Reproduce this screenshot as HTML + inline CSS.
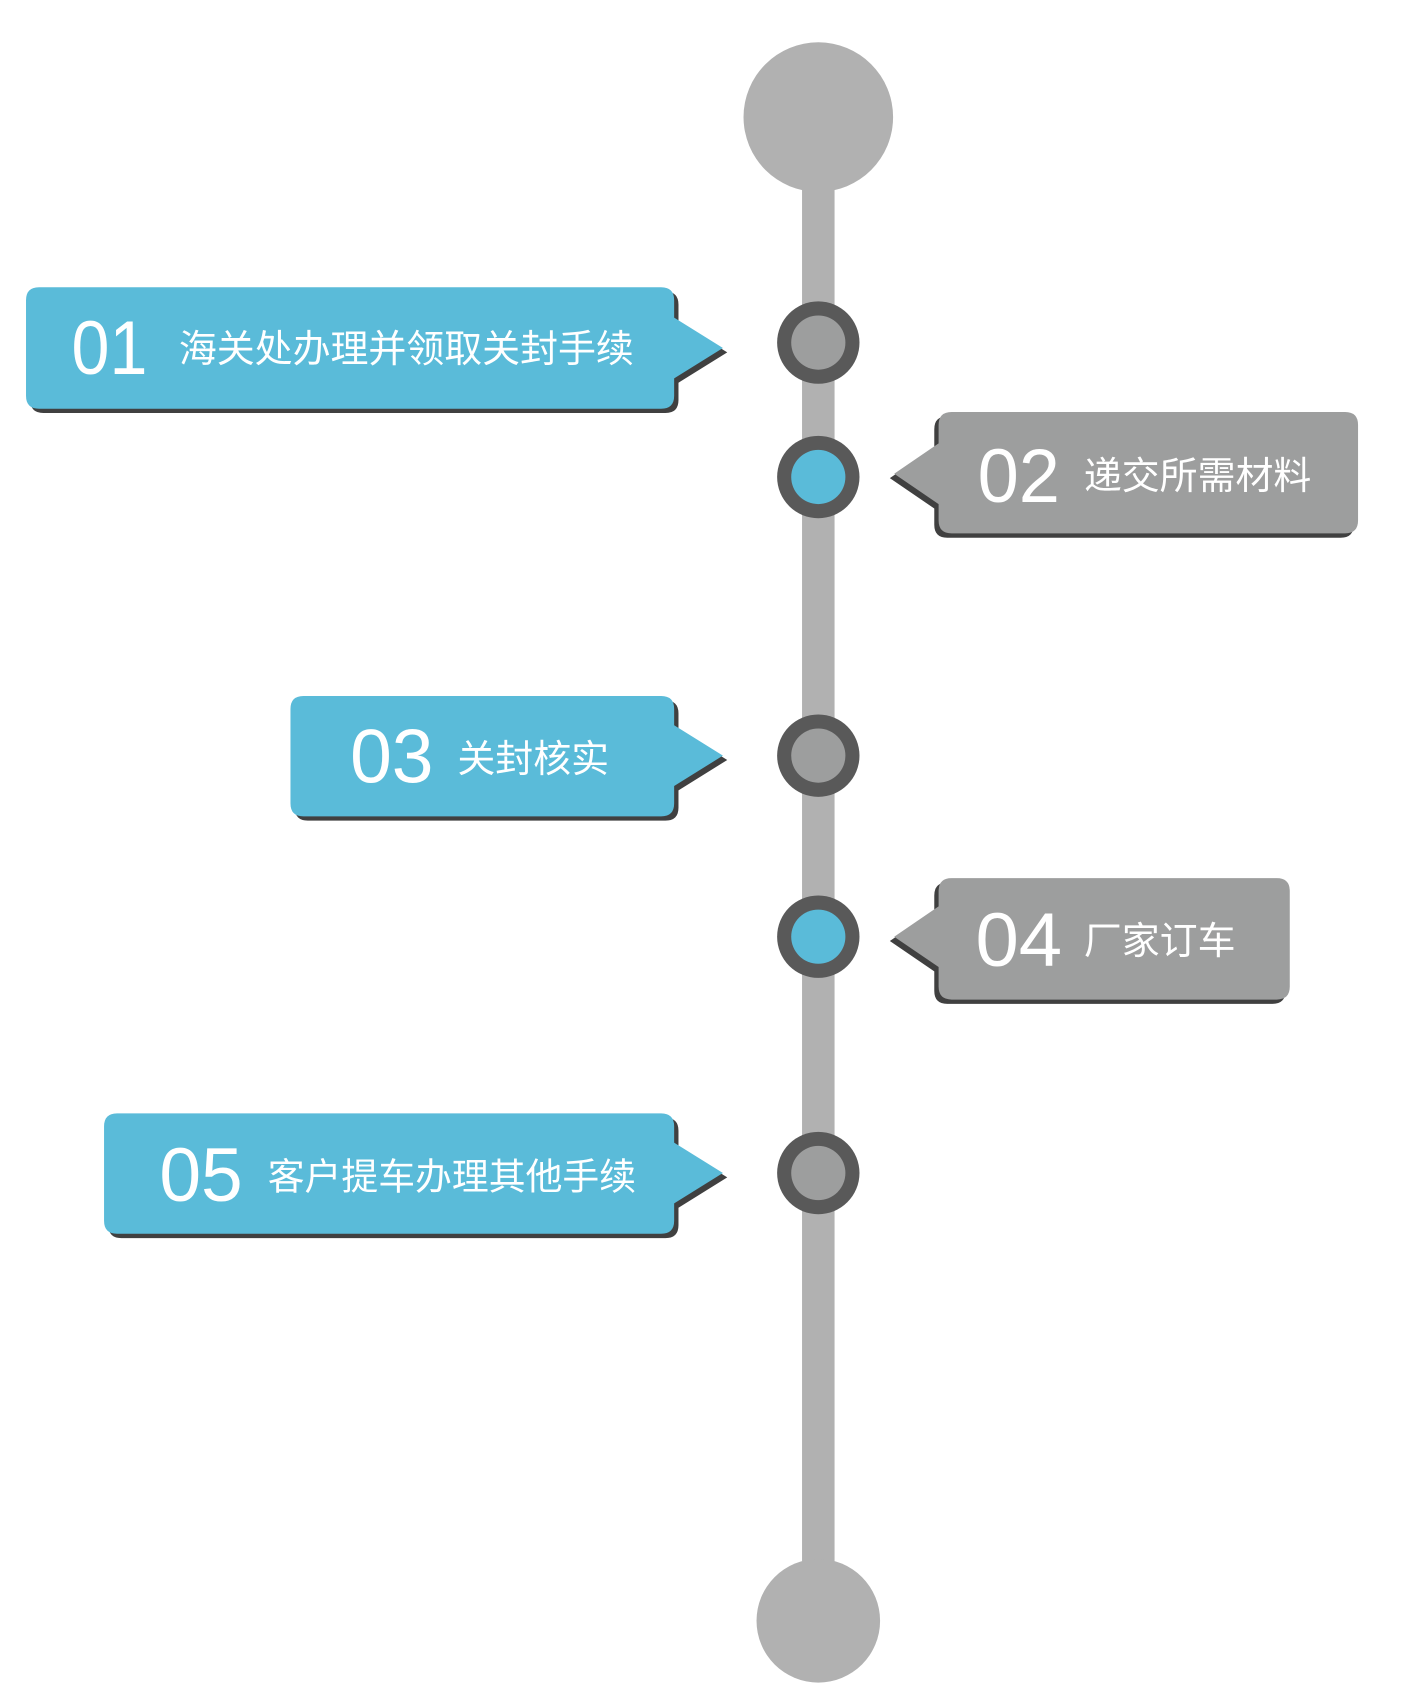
<!DOCTYPE html>
<html><head><meta charset="utf-8"><style>
html,body{margin:0;padding:0;background:#fff;}
svg{display:block;}
text{font-family:"Liberation Sans","Noto Sans CJK SC",sans-serif;fill:#fff;}
</style></head><body>
<svg width="1409" height="1701" viewBox="0 0 1300 1569" preserveAspectRatio="none" xmlns="http://www.w3.org/2000/svg">
<rect x="740" y="108" width="30" height="1387" fill="#b1b1b1"/>
<circle cx="755" cy="108" r="69" fill="#b1b1b1"/>
<circle cx="755" cy="1495" r="57" fill="#b1b1b1"/>

<g>
<circle cx="755" cy="316" r="38" fill="#595959"/><circle cx="755" cy="316" r="25" fill="#9d9e9e"/>
<circle cx="755" cy="440" r="38" fill="#595959"/><circle cx="755" cy="440" r="25" fill="#5abbd9"/>
<circle cx="755" cy="697" r="38" fill="#595959"/><circle cx="755" cy="697" r="25" fill="#9d9e9e"/>
<circle cx="755" cy="864" r="38" fill="#595959"/><circle cx="755" cy="864" r="25" fill="#5abbd9"/>
<circle cx="755" cy="1082" r="38" fill="#595959"/><circle cx="755" cy="1082" r="25" fill="#9d9e9e"/>
</g>

<!-- box 01 -->
<path d="M12,0 H586 Q598,0 598,12 V28 L643,56 L598,84 V100 Q598,112 586,112 H12 Q0,112 0,100 V12 Q0,0 12,0 Z" transform="translate(28,269)" fill="#404040"/>
<path d="M12,0 H586 Q598,0 598,12 V28 L643,56 L598,84 V100 Q598,112 586,112 H12 Q0,112 0,100 V12 Q0,0 12,0 Z" transform="translate(24,265)" fill="#5abbd9"/>
<text x="66" y="345" font-size="70" textLength="70" lengthAdjust="spacingAndGlyphs">01</text>
<text x="165" y="334" font-size="35">海关处办理并领取关封手续</text>

<!-- box 03 -->
<path d="M12,0 H342 Q354,0 354,12 V27 L399,55 L354,83 V99 Q354,111 342,111 H12 Q0,111 0,99 V12 Q0,0 12,0 Z" transform="translate(272,646)" fill="#404040"/>
<path d="M12,0 H342 Q354,0 354,12 V27 L399,55 L354,83 V99 Q354,111 342,111 H12 Q0,111 0,99 V12 Q0,0 12,0 Z" transform="translate(268,642)" fill="#5abbd9"/>
<text x="323" y="722" font-size="70" textLength="77" lengthAdjust="spacingAndGlyphs">03</text>
<text x="422" y="712" font-size="35">关封核实</text>

<!-- box 05 -->
<path d="M12,0 H514 Q526,0 526,12 V27 L571,55 L526,83 V99 Q526,111 514,111 H12 Q0,111 0,99 V12 Q0,0 12,0 Z" transform="translate(100,1031)" fill="#404040"/>
<path d="M12,0 H514 Q526,0 526,12 V27 L571,55 L526,83 V99 Q526,111 514,111 H12 Q0,111 0,99 V12 Q0,0 12,0 Z" transform="translate(96,1027)" fill="#5abbd9"/>
<text x="147" y="1108" font-size="70" textLength="77" lengthAdjust="spacingAndGlyphs">05</text>
<text x="247" y="1097" font-size="34">客户提车办理其他手续</text>

<!-- box 02 -->
<path d="M12,0 H375 Q387,0 387,12 V100 Q387,112 375,112 H12 Q0,112 0,100 V85 L-41,57 L0,29 V12 Q0,0 12,0 Z" transform="translate(862,384)" fill="#404040"/>
<path d="M12,0 H375 Q387,0 387,12 V100 Q387,112 375,112 H12 Q0,112 0,100 V85 L-41,57 L0,29 V12 Q0,0 12,0 Z" transform="translate(866,380)" fill="#9d9e9e"/>
<text x="902" y="463" font-size="70" textLength="76" lengthAdjust="spacingAndGlyphs">02</text>
<text x="1000" y="451" font-size="35">递交所需材料</text>

<!-- box 04 -->
<path d="M12,0 H312 Q324,0 324,12 V100 Q324,112 312,112 H12 Q0,112 0,100 V82 L-41,54 L0,26 V12 Q0,0 12,0 Z" transform="translate(862,814)" fill="#404040"/>
<path d="M12,0 H312 Q324,0 324,12 V100 Q324,112 312,112 H12 Q0,112 0,100 V82 L-41,54 L0,26 V12 Q0,0 12,0 Z" transform="translate(866,810)" fill="#9d9e9e"/>
<text x="900" y="891" font-size="70" textLength="80" lengthAdjust="spacingAndGlyphs">04</text>
<text x="1000" y="880" font-size="35">厂家订车</text>
</svg>
</body></html>
